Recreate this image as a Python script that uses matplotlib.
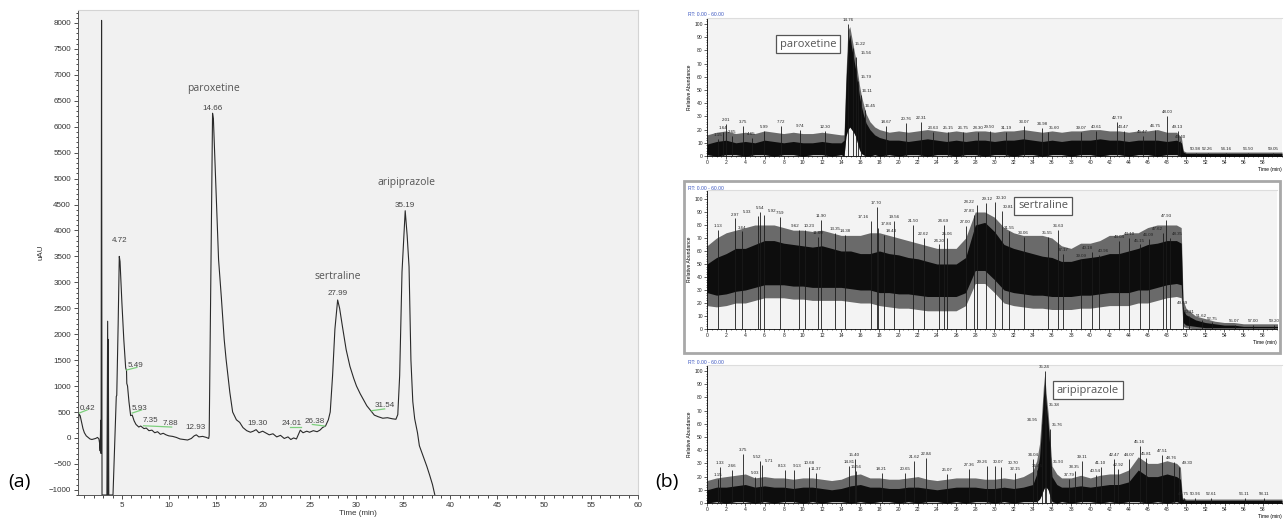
import matplotlib
matplotlib.use("Agg")
import matplotlib.pyplot as plt
from matplotlib.ticker import MultipleLocator
from matplotlib.patches import Rectangle

plt.rcParams['font.family'] = ['Liberation Sans', 'DejaVu Sans']

# ---- (a) UV chromatogram ----
chrom_t = [0.32, 0.42, 0.55, 0.7, 0.85, 1.0, 1.2, 1.4, 1.6, 1.8, 2.0, 2.2, 2.4, 2.55, 2.62,
           2.68, 2.74, 2.78, 2.83, 2.88, 3.4, 3.48, 3.52, 3.55, 3.6, 4.05, 4.25, 4.4, 4.45,
           4.6, 4.72, 4.8, 5.0, 5.2, 5.4, 5.49, 5.52, 5.6, 5.75, 5.93, 6.1, 6.3, 6.5, 6.8,
           7.0, 7.35, 7.6, 7.88, 8.2, 8.5, 8.8, 9.1, 9.4, 9.7, 10.0, 10.4, 10.8, 11.2, 11.6,
           12.0, 12.4, 12.7, 12.93, 13.2, 13.6, 14.0, 14.25, 14.3, 14.5, 14.66, 14.75, 15.07,
           15.3, 15.6, 15.9, 16.1, 16.5, 16.8, 17.2, 17.55, 17.9, 18.3, 18.7, 19.0, 19.3, 19.6,
           20.0, 20.4, 20.7, 21.1, 21.5, 21.9, 22.3, 22.7, 23.0, 23.3, 23.6, 24.01, 24.3, 24.7,
           25.0, 25.4, 25.8, 26.1, 26.38, 26.7, 27.0, 27.2, 27.45, 27.7, 27.99, 28.2, 28.5,
           28.9, 29.3, 29.7, 30.0, 30.4, 30.7, 31.1, 31.54, 31.9, 32.3, 32.8, 33.3, 33.8, 34.2,
           34.4, 34.6, 34.85, 35.19, 35.4, 35.6, 35.8, 36.0, 36.2, 36.5, 36.7, 37.0, 37.2,
           37.5, 37.8, 38.1, 38.35]
chrom_y = [180, 460, 430, 300, 180, 100, 40, 10, -20, -30, -20, -10, 10, -20, -100,
           -250, 340, -300, 8050, -1100, -1100, 2250, -1100, 1900, -1100, -1100, 0, 800, 820,
           2200, 3500, 3400, 2600, 1900, 1350, 1300, 1050, 1000, 700, 430, 440, 330, 260, 210,
           230, 180, 190, 140, 150, 100, 120, 70, 90, 60, 40, 30, 10, -20, -30,
           -40, -10, 40, 60, 20, 30, 10, -10, 50, 3400, 6260, 6150, 4600,
           3440, 2700, 1900, 1520, 880, 500, 350, 300, 200, 140, 110, 130, 160, 100,
           130, 90, 60, 80, 20, 50, -10, 20, -30, 0, -20, 150, 100, 130,
           110, 140, 120, 150, 200, 230, 350, 500, 1200, 2100, 2660, 2500, 2150,
           1700, 1380, 1150, 1000, 850, 750, 620, 520, 440, 410, 380, 390, 370, 360,
           450, 1200, 3200, 4380, 3900, 3300, 1500, 700, 370, 100, -150, -300, -400,
           -550, -720, -900, -1100]

# retention time labels: (text, x, y)
rt_labels = [("0.42", 1.3, 560), ("4.72", 4.8, 3810), ("5.49", 6.4, 1400), ("5.93", 6.9, 575),
             ("7.35", 8.05, 330), ("7.88", 10.2, 270), ("12.93", 12.8, 205), ("14.66", 14.7, 6360),
             ("19.30", 19.4, 270), ("24.01", 23.1, 270), ("26.38", 25.5, 320), ("27.99", 28.0, 2790),
             ("31.54", 33.0, 620), ("35.19", 35.2, 4490)]
green_marks = [(0.45, 480, 1.3, 540), (5.5, 1310, 6.6, 1360), (6.1, 480, 7.1, 540),
               (7.3, 235, 10.3, 210), (22.9, 220, 24.1, 220), (25.3, 260, 26.6, 230),
               (31.6, 525, 33.0, 560)]
compounds_a = [("paroxetine", 14.8, 6730), ("sertraline", 28.0, 3120), ("aripiprazole", 35.3, 4915)]

# ---- (b) mass traces: band envelopes and labelled peaks (relative abundance, %) ----
p1_env_t = [0, 1, 2, 3, 4, 5, 6, 7, 8, 9, 10, 11, 12, 13, 14,
            14.3, 14.5, 14.7, 14.9, 15.1, 15.3, 15.5, 15.7, 15.9, 16.1, 16.3, 16.6,
            17, 17.5, 18,
            19, 20, 21, 22, 23, 24, 25, 26, 27, 28, 29, 30, 31, 32, 33, 34, 35, 36, 37, 38,
            39, 40, 41, 42, 43, 44, 45, 46, 47, 48, 49,
            49.5, 49.7, 50, 52, 54, 56, 58, 60]
p1_hi = [9, 11, 12, 10, 11, 10, 12, 11, 10, 11, 10, 10, 11, 10, 10,
         12, 55, 85, 92, 82, 74, 66, 56, 46, 38, 32, 25,
         20, 16, 14,
         12, 12, 11, 12, 13, 12, 11, 12, 11, 12, 12, 11, 12, 12, 13, 12, 11, 12, 11, 12,
         12, 12, 13, 12, 12, 11, 12, 12, 12, 11, 12,
         10, 3, 2, 2, 2, 2, 2, 2]
p1_lo = [1, 0, 1, 1, 0, 1, 1, 0, 1, 1, 0, 1, 1, 0, 1,
         0, 15, 20, 22, 20, 18, 15, 10, 5, 2, 1, 0,
         0, 1, 0,
         1, 0, 1, 1, 0, 1, 1, 0, 1, 1, 0, 1, 1, 0, 1, 1, 0, 1, 1, 0,
         1, 1, 0, 1, 1, 0, 1, 1, 0, 1, 1,
         0, 0, 0, 0, 0, 0, 0, 0]
p1_gray = [16, 18, 19, 17, 18, 17, 19, 18, 17, 18, 17, 17, 18, 17, 16,
           16, 62, 95, 98, 90, 82, 74, 64, 54, 46, 40, 32,
           26, 22, 20,
           18, 19, 18, 19, 20, 19, 18, 19, 18, 19, 19, 18, 19, 19, 20, 19, 18, 19, 18, 19,
           19, 20, 20, 19, 19, 18, 19, 19, 20, 18, 18,
           14, 4, 3, 3, 3, 3, 3, 3]
p1_peak_t = [1.15, 1.64, 2.01, 2.65, 3.75, 4.65, 5.99, 7.72, 9.74, 12.30, 14.76, 15.22, 15.56,
             15.79, 16.11, 16.45, 18.67, 20.76, 22.31, 23.63, 25.15, 26.75, 28.30, 29.50,
             31.19, 33.07, 34.98, 35.60, 39.07, 40.61, 42.79, 43.47, 45.47, 46.75, 48.00,
             49.13, 49.40, 50.98, 52.26, 54.16, 56.50, 59.05]
p1_peak_h = [13, 18, 24, 15, 23, 14, 19, 23, 20, 19, 100, 82, 75, 57, 46, 35, 23, 25, 26, 18,
             18, 18, 18, 19, 18, 23, 21, 18, 18, 19, 26, 19, 15, 20, 30, 19, 11, 2, 2, 2, 2, 2]
p1_label_dx = {15.22: 0.8, 15.56: 1.0, 15.79: 0.8, 16.11: 0.6, 16.45: 0.6, 35.60: 0.6}

p2_env_t = [0, 1, 2, 3, 4, 5, 6, 7, 8, 9, 10, 11, 12, 13, 14, 15, 16, 17, 18, 19,
            20, 21, 22, 23, 24, 25, 26, 27, 28, 29, 30, 31, 32, 33, 34, 35, 36, 37, 38, 39,
            40, 41, 42, 43, 44, 45, 46, 47, 48, 49,
            49.5, 49.7, 50, 51, 52, 53, 54, 55, 56, 57, 58, 59, 60]
p2_hi = [50, 55, 58, 62, 62, 65, 68, 68, 66, 65, 64, 63, 64, 62, 60, 60, 58, 58, 60, 58,
         57, 55, 54, 52, 50, 50, 50, 55, 80, 82, 75, 65, 62, 60, 58, 56, 55, 52, 52, 54,
         55, 56, 58, 58, 60, 62, 65, 66, 68, 68,
         66, 15, 11, 7, 5, 4, 3, 3, 2, 2, 2, 2, 2]
p2_lo = [28, 26, 27, 29, 30, 32, 34, 34, 34, 33, 33, 32, 32, 32, 32, 31, 30, 30, 28, 28,
         27, 27, 26, 25, 25, 25, 25, 28, 45, 45, 38, 30, 28, 27, 26, 26, 25, 25, 25, 26,
         26, 27, 28, 28, 28, 30, 30, 32, 34, 35,
         34, 5, 3, 2, 1, 1, 1, 1, 1, 1, 1, 1, 1]
p2_gray = [64, 70, 74, 76, 78, 80, 80, 80, 78, 76, 76, 75, 76, 74, 72, 72, 72, 74, 74, 72,
           70, 68, 66, 64, 62, 62, 62, 70, 90, 90, 86, 78, 74, 72, 72, 72, 70, 64, 62, 66,
           66, 68, 72, 72, 74, 74, 78, 80, 80, 80,
           78, 22, 16, 10, 8, 6, 5, 5, 4, 4, 4, 4, 4]
p2_gray_lo = [18, 17, 18, 20, 20, 22, 24, 24, 24, 23, 23, 22, 22, 22, 22, 21, 20, 20, 18, 17,
              16, 16, 15, 14, 14, 14, 14, 18, 35, 35, 28, 20, 18, 17, 16, 16, 15, 15, 15, 16,
              16, 17, 18, 18, 18, 20, 20, 22, 24, 25,
              24, 2, 1, 0, 0, 0, 0, 0, 0, 0, 0, 0, 0]
p2_peak_t = [1.13, 2.97, 3.64, 5.33, 5.54, 5.92, 7.59, 9.62, 10.23, 11.60, 11.90, 13.35, 14.38,
             17.16, 17.70, 17.84, 18.43, 19.56, 21.50, 22.62, 24.20, 24.69, 25.06, 27.00,
             27.83, 28.22, 29.12, 30.10, 30.81, 31.55, 33.06, 35.55, 36.63, 37.17, 39.09,
             40.18, 40.96, 43.04, 44.10, 45.15, 46.09, 47.62, 47.93, 48.35, 49.69, 50.31,
             51.62, 52.75, 55.07, 57.00, 59.20]
p2_peak_h = [76, 85, 75, 87, 90, 88, 86, 76, 76, 71, 84, 74, 72, 83, 94, 78, 72, 83, 80, 70,
             65, 80, 70, 79, 88, 95, 97, 98, 91, 75, 71, 71, 76, 58, 53, 59, 57, 68, 70, 65,
             69, 74, 84, 70, 17, 10, 7, 5, 3, 3, 3]
p2_label_dx = {5.33: -1.1, 5.92: 0.9, 9.62: -0.45, 10.23: 0.45, 17.16: -0.9, 17.84: 0.9,
               18.43: 0.8, 27.83: -0.5, 28.22: -0.9, 29.12: 0.1, 30.10: 0.6, 30.81: 0.6,
               40.18: -0.45, 40.96: 0.45, 47.62: -0.6, 48.35: 0.7}

p3_env_t = [0, 1, 2, 3, 4, 5, 6, 7, 8, 9, 10, 11, 12, 13, 14, 15, 16, 17, 18, 19,
            20, 21, 22, 23, 24, 25, 26, 27, 28, 29, 30, 31, 32, 33, 34,
            34.4, 34.7, 34.9, 35.1, 35.24, 35.4, 35.6, 35.8, 36.0, 36.5,
            37, 38, 39, 40, 41, 42, 43, 44, 45, 46, 47, 48, 49,
            49.4, 49.6, 50, 52, 54, 56, 58, 60]
p3_hi = [10, 12, 12, 13, 14, 12, 13, 12, 12, 11, 12, 12, 11, 10, 11, 13, 14, 12, 12, 11,
         11, 12, 12, 11, 10, 11, 12, 12, 12, 11, 11, 12, 11, 12, 14,
         22, 35, 55, 80, 92, 75, 60, 40, 20, 14,
         12, 12, 13, 12, 13, 14, 14, 16, 25, 20, 20, 22, 20,
         18, 3, 2, 2, 2, 2, 2, 2]
p3_lo = [0, 1, 0, 1, 1, 0, 1, 0, 1, 1, 0, 1, 0, 1, 1, 0, 1, 0, 1, 1,
         0, 1, 0, 1, 1, 0, 1, 0, 1, 1, 0, 1, 0, 1, 1,
         1, 3, 6, 10, 12, 12, 10, 5, 1, 0,
         1, 0, 1, 1, 0, 1, 0, 1, 1, 0, 1, 0, 1,
         0, 0, 0, 0, 0, 0, 0, 0]
p3_gray = [17, 19, 20, 21, 22, 19, 20, 19, 19, 18, 19, 19, 18, 17, 18, 21, 22, 19, 19, 18,
           18, 19, 20, 18, 17, 18, 19, 19, 19, 18, 18, 19, 18, 20, 24,
           32, 45, 65, 88, 98, 82, 68, 48, 28, 22,
           19, 19, 21, 19, 21, 22, 22, 25, 35, 30, 30, 32, 30,
           27, 4, 3, 3, 3, 3, 3, 3]
p3_peak_t = [1.15, 1.33, 2.66, 3.75, 5.03, 5.52, 5.71, 8.13, 9.13, 10.68, 11.37, 14.81, 15.40,
             15.56, 18.21, 20.65, 21.62, 22.84, 25.07, 27.36, 29.26, 30.07, 30.70, 32.15,
             34.04, 34.45, 34.95, 35.24, 35.38, 35.76, 35.93, 37.79, 38.35, 39.11, 40.54,
             41.10, 42.47, 42.92, 44.07, 45.16, 45.81, 47.51, 48.76, 49.30, 49.75, 50.96,
             52.61, 56.11, 58.11]
p3_peak_h = [18, 27, 25, 37, 20, 32, 29, 25, 25, 27, 23, 28, 33, 24, 23, 23, 32, 34, 22, 26,
             28, 28, 27, 23, 33, 25, 60, 100, 71, 56, 28, 18, 24, 32, 21, 27, 33, 26, 33, 43,
             34, 36, 31, 27, 4, 4, 4, 4, 4]
p3_label_dx = {5.52: -0.3, 5.71: 0.8, 8.13: -0.3, 9.13: 0.3, 29.26: -0.5, 30.07: 0.3,
               30.70: 1.2, 34.95: -1.0, 35.38: 0.8, 35.76: 0.8, 35.93: 0.7, 48.76: -0.3,
               49.30: 0.8}

W, H = 1284, 520


def px_axes(fig, left, top, right, bottom):
    return fig.add_axes([left / W, (H - bottom) / H, (right - left) / W, (bottom - top) / H])


fig = plt.figure(figsize=(W / 100, H / 100), dpi=100)

# ---------------- panel (a) ----------------
ax = px_axes(fig, 78, 10, 638, 495)
ax.set_facecolor('#f1f1f1')
ax.plot(chrom_t, chrom_y, color='#2a2a2a', lw=0.8)
for x0, y0, x1, y1 in green_marks:
    ax.plot([x0, x1], [y0, y1], color='#7ccf7c', lw=0.9)
for txt, x, y in rt_labels:
    ax.text(x, y, txt, fontsize=5.8, color='#444444', ha='center', va='center')
for name, x, y in compounds_a:
    ax.text(x, y, name, fontsize=7.5, color='#555555', ha='center', va='center',
            family=['Open Sans', 'DejaVu Sans'])
ax.set_xlim(0.32, 59.9)
ax.set_ylim(-1100, 8250)
ax.xaxis.set_major_locator(MultipleLocator(5))
ax.xaxis.set_minor_locator(MultipleLocator(1))
ax.yaxis.set_major_locator(MultipleLocator(500))
ax.yaxis.set_minor_locator(MultipleLocator(100))
ax.set_xticks([5, 10, 15, 20, 25, 30, 35, 40, 45, 50, 55, 60])
ax.tick_params(labelsize=5.8, colors='#333333', length=3, width=0.6, pad=2)
ax.tick_params(which='minor', length=1.8, width=0.5)
for s in ['top', 'right']:
    ax.spines[s].set_color('#d4d4d4')
for s in ['left', 'bottom']:
    ax.spines[s].set_color('#555555')
    ax.spines[s].set_linewidth(0.7)
ax.set_ylabel('uAU', fontsize=5.8, color='#333333', labelpad=3)
ax.set_xlabel('Time (min)', fontsize=5.8, color='#333333', labelpad=1)

fig.text(8 / W, (H - 482) / H, '(a)', fontsize=14, va='center', ha='left',
         family=['Open Sans', 'DejaVu Sans'])
fig.text(655 / W, (H - 482) / H, '(b)', fontsize=14, va='center', ha='left',
         family=['Open Sans', 'DejaVu Sans'])


# ---------------- panel (b) ----------------
def ms_panel(box, ylim, xlim, env_t, lo, hi, gray_hi, gray_lo, pk_t, pk_h, label_dx,
             name, name_xy, rt_y):
    a = px_axes(fig, *box)
    a.set_facecolor('#f3f3f3')
    a.fill_between(env_t, gray_lo, gray_hi, color='#6a6a6a', lw=0)
    a.fill_between(env_t, lo, hi, color='#0d0d0d', lw=0)
    a.vlines(pk_t, 0, pk_h, color='#1a1a1a', lw=0.6)
    for t, h in zip(pk_t, pk_h):
        a.text(t + label_dx.get(t, 0), h + 1.5, f"{t:.2f}", fontsize=3.2, ha='center',
               va='bottom', color='#222222')
    a.set_xlim(*xlim)
    a.set_ylim(*ylim)
    a.xaxis.set_minor_locator(MultipleLocator(0.5))
    a.yaxis.set_major_locator(MultipleLocator(10))
    a.yaxis.set_minor_locator(MultipleLocator(2))
    a.set_xticks(list(range(0, 60, 2)))
    a.tick_params(labelsize=3.6, length=2, width=0.5, pad=1, colors='#222222')
    a.tick_params(which='minor', length=1, width=0.4)
    a.spines['right'].set_visible(False)
    a.spines['top'].set_color('#dddddd')
    for s in ['left', 'bottom']:
        a.spines[s].set_linewidth(0.6)
    a.set_ylabel('Relative Abundance', fontsize=3.6, labelpad=2)
    a.set_xlabel('Time (min)', fontsize=3.6, labelpad=1, loc='right')
    fig.text(688 / W, (H - rt_y) / H, 'RT: 0.00 - 60.00', fontsize=3.6, color='#3a55c0',
             va='center', ha='left')
    fig.text(name_xy[0] / W, (H - name_xy[1]) / H, name, fontsize=8, color='#555555',
             ha='center', va='center', family=['Open Sans', 'DejaVu Sans'],
             bbox=dict(boxstyle='square,pad=0.35', fc='white', ec='#555555', lw=0.9))
    return a


ms_panel((707, 18, 1282, 156), (0, 104.5), (0, 60), p1_env_t, p1_lo, p1_hi, p1_gray, p1_lo,
         p1_peak_t, p1_peak_h, p1_label_dx, 'paroxetine', (808, 44), 15)
ms_panel((707, 190, 1277, 329), (0, 106.9), (0, 59.5), p2_env_t, p2_lo, p2_hi, p2_gray, p2_gray_lo,
         p2_peak_t, p2_peak_h, p2_label_dx, 'sertraline', (1043, 206), 188)
ms_panel((707, 365, 1282, 503), (0, 104.5), (0, 60), p3_env_t, p3_lo, p3_hi, p3_gray, p3_lo,
         p3_peak_t, p3_peak_h, p3_label_dx, 'aripiprazole', (1088, 390), 362)

# frame round the middle trace
fig.patches.append(Rectangle((684 / W, (H - 353) / H), (1280 - 684) / W, (353 - 181) / H,
                             transform=fig.transFigure, fill=False, ec='#a8a8a8', lw=2))

fig.savefig('out.png', dpi=100)
